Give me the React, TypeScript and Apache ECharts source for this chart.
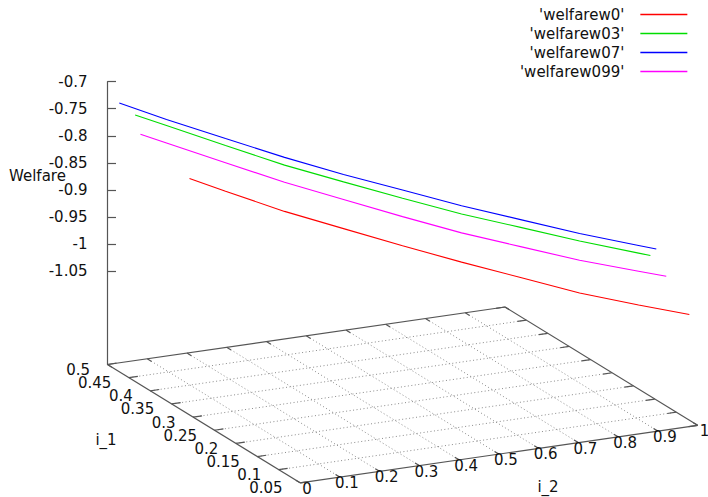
import React, { useEffect, useRef } from 'react';
import * as echarts from 'echarts';

// ---- axis ticks / labels ----
const I1_TICKS = [0.05, 0.1, 0.15, 0.2, 0.25, 0.3, 0.35, 0.4, 0.45, 0.5];
const I1_LABELS = ['0.05', '0.1', '0.15', '0.2', '0.25', '0.3', '0.35', '0.4', '0.45', '0.5'];
const I2_TICKS = [0, 0.1, 0.2, 0.3, 0.4, 0.5, 0.6, 0.7, 0.8, 0.9, 1];
const I2_LABELS = ['0', '0.1', '0.2', '0.3', '0.4', '0.5', '0.6', '0.7', '0.8', '0.9', '1'];
const Z_TICKS = [-1.05, -1, -0.95, -0.9, -0.85, -0.8, -0.75, -0.7];
const Z_LABELS = ['-1.05', '-1', '-0.95', '-0.9', '-0.85', '-0.8', '-0.75', '-0.7'];

const I1_MIN = 0.05;
const I1_MAX = 0.5;
const I2_MIN = 0;
const I2_MAX = 1;
const Z_TOP = -0.7;
const Z_BASE = -1.22274;

// ---- series ----
const SERIES_NAMES = ["'welfarew0'", "'welfarew03'", "'welfarew07'", "'welfarew099'"];
const SERIES_COLORS = ['#ff0000', '#00dd00', '#0000ff', '#ff00ff'];

const I2_W0 = [0.139, 0.2, 0.3, 0.4, 0.5, 0.6, 0.7, 0.8, 0.9, 0.986];
const I1_W0 = [0.4375, 0.41, 0.365, 0.32, 0.275, 0.23, 0.185, 0.14, 0.095, 0.0563];
const WEL_W0 = [-0.8632, -0.88, -0.906, -0.9266, -0.947, -0.966, -0.9832, -1.0005, -1.0115, -1.0195];

const I2_W03 = [0.047, 0.1, 0.2, 0.3, 0.4, 0.5, 0.6, 0.7, 0.8, 0.9, 0.92];
const I1_W03 = [0.479, 0.455, 0.41, 0.365, 0.32, 0.275, 0.23, 0.185, 0.14, 0.095, 0.086];
const WEL_W03 = [-0.7565, -0.7699, -0.7955, -0.8205, -0.8402, -0.8592, -0.8769, -0.8906, -0.9044, -0.9156, -0.9178];

const I2_W07 = [0.02, 0.1, 0.2, 0.3, 0.4, 0.5, 0.6, 0.7, 0.8, 0.9, 0.93];
const I1_W07 = [0.491, 0.455, 0.41, 0.365, 0.32, 0.275, 0.23, 0.185, 0.14, 0.095, 0.0815];
const WEL_W07 = [-0.7371, -0.7585, -0.7826, -0.8061, -0.8264, -0.844, -0.8617, -0.8762, -0.8907, -0.9014, -0.9045];

const I2_W099 = [0.056, 0.1, 0.2, 0.3, 0.4, 0.5, 0.6, 0.7, 0.8, 0.9, 0.947];
const I1_W099 = [0.475, 0.455, 0.41, 0.365, 0.32, 0.275, 0.23, 0.185, 0.14, 0.095, 0.074];
const WEL_W099 = [-0.7909, -0.8021, -0.8273, -0.8522, -0.8728, -0.8932, -0.912, -0.9261, -0.9401, -0.9492, -0.9532];

// ---- projection (view) constants ----
const VIEW = {
  i2dx: 397.5, // px per unit of i_2 (horizontal)
  i2dy: -57.5, // px per unit of i_2 (vertical, screen down)
  i1dx: 428, // px per unit of decreasing i_1
  i1dy: 263,
  zScale: 541, // px per unit of welfare
};

function proj(i1: number, i2: number, z: number): [number, number] {
  const a = i2 - I2_MIN;
  const b = I1_MAX - i1;
  const hx = a * VIEW.i2dx + b * VIEW.i1dx;
  const dp = a * VIEW.i2dy + b * VIEW.i1dy;
  return [hx, z - dp / VIEW.zScale];
}

const FONT = 'DejaVu Sans';
const TEXT_COLOR = '#111';
const BORDER_COLOR = '#555';

export default function App() {
  const ref = useRef<HTMLDivElement>(null);

  useEffect(() => {
    if (!ref.current) return;
    const chart = echarts.init(ref.current, undefined, { renderer: 'svg' });

    // base plane segments: [i1a, i2a, i1b, i2b, kind] kind 0 border, 1 grid, 2 tick
    const segs: number[][] = [];
    I2_TICKS.forEach((t) => {
      if (t > I2_MIN && t < I2_MAX) segs.push([I1_MIN, t, I1_MAX, t, 1]);
    });
    I1_TICKS.forEach((t) => {
      if (t > I1_MIN && t < I1_MAX) segs.push([t, I2_MIN, t, I2_MAX, 1]);
    });
    segs.push([I1_MAX, I2_MIN, I1_MAX, I2_MAX, 0]);
    segs.push([I1_MAX, I2_MAX, I1_MIN, I2_MAX, 0]);
    segs.push([I1_MIN, I2_MAX, I1_MIN, I2_MIN, 0]);
    segs.push([I1_MIN, I2_MIN, I1_MAX, I2_MIN, 0]);
    const t2 = 0.0225 * (I2_MAX - I2_MIN);
    const t1 = 0.0225 * (I1_MAX - I1_MIN);
    I1_TICKS.forEach((t) => {
      segs.push([t, I2_MIN, t, I2_MIN + t2, 2]);
      segs.push([t, I2_MAX, t, I2_MAX - t2, 2]);
    });
    I2_TICKS.forEach((t) => {
      segs.push([I1_MIN, t, I1_MIN + t1, t, 2]);
      segs.push([I1_MAX, t, I1_MAX - t1, t, 2]);
    });

    // tick labels: [i1, i2, axis] axis 0 = i_1, 1 = i_2
    const labels: { v: number[]; text: string }[] = [];
    I1_TICKS.forEach((t, k) => labels.push({ v: [t, I2_MIN, 0], text: I1_LABELS[k] }));
    I2_TICKS.forEach((t, k) => labels.push({ v: [I1_MIN, t, 1], text: I2_LABELS[k] }));

    const sets = [
      [I1_W0, I2_W0, WEL_W0],
      [I1_W03, I2_W03, WEL_W03],
      [I1_W07, I2_W07, WEL_W07],
      [I1_W099, I2_W099, WEL_W099],
    ];

    const lineSeries = sets.map((s, k) => ({
      name: SERIES_NAMES[k],
      type: 'line',
      data: s[0].map((i1, j) => proj(i1, s[1][j], s[2][j])),
      symbol: 'none',
      clip: false,
      z: 5,
      lineStyle: { color: SERIES_COLORS[k], width: 1.1 },
      itemStyle: { color: SERIES_COLORS[k] },
    }));

    chart.setOption({
      animation: false,
      backgroundColor: '#fff',
      grid: { left: 107.5, top: 81.7, width: 600.5, height: 282.8 },
      xAxis: { type: 'value', min: 0, max: 600.5, show: false },
      yAxis: {
        type: 'value',
        min: Z_BASE,
        max: Z_TOP,
        axisLine: { show: true, lineStyle: { color: BORDER_COLOR, width: 1.2 } },
        axisTick: {
          show: true,
          inside: true,
          length: 8.5,
          customValues: Z_TICKS,
          lineStyle: { color: BORDER_COLOR, width: 1.2 },
        },
        axisLabel: {
          customValues: Z_TICKS,
          margin: 20,
          fontFamily: FONT,
          fontSize: 15,
          color: TEXT_COLOR,
          formatter: (v: number) => {
            const i = Z_TICKS.findIndex((t) => Math.abs(t - v) < 1e-9);
            return i >= 0 ? Z_LABELS[i] : '';
          },
        },
        splitLine: { show: false },
      },
      legend: {
        data: SERIES_NAMES,
        orient: 'vertical',
        right: 20,
        top: 7,
        padding: 0,
        align: 'right',
        itemWidth: 47,
        itemHeight: 14,
        itemGap: 4,
        itemStyle: { opacity: 0 },
        lineStyle: { width: 1.3 },
        textStyle: { fontFamily: FONT, fontSize: 15, color: TEXT_COLOR, padding: [0, 11, 0, 0] },
      },
      graphic: [
        { type: 'text', left: 9, top: 168, style: { text: 'Welfare', font: `15px "${FONT}"`, fill: TEXT_COLOR } },
        { type: 'text', x: 106, y: 440, style: { text: 'i_1', font: `15px "${FONT}"`, fill: TEXT_COLOR, textAlign: 'center', textVerticalAlign: 'middle' } },
        { type: 'text', x: 548, y: 487, style: { text: 'i_2', font: `15px "${FONT}"`, fill: TEXT_COLOR, textAlign: 'center', textVerticalAlign: 'middle' } },
      ],
      series: [
        {
          type: 'custom',
          name: 'base',
          clip: false,
          silent: true,
          z: 1,
          data: segs,
          renderItem: (params: any, api: any) => {
            const a = api.coord(proj(api.value(0), api.value(1), Z_BASE));
            const b = api.coord(proj(api.value(2), api.value(3), Z_BASE));
            const kind = api.value(4);
            return {
              type: 'line',
              shape: { x1: a[0], y1: a[1], x2: b[0], y2: b[1] },
              style:
                kind === 1
                  ? { stroke: '#8c8c8c', lineWidth: 1, lineDash: [1, 2.5] }
                  : { stroke: BORDER_COLOR, lineWidth: 1.2 },
            };
          },
        },
        {
          type: 'custom',
          name: 'ticklabels',
          clip: false,
          silent: true,
          z: 2,
          data: labels.map((l) => l.v),
          renderItem: (params: any, api: any) => {
            const p = api.coord(proj(api.value(0), api.value(1), Z_BASE));
            const axis = api.value(2);
            const text = labels[params.dataIndex].text;
            return {
              type: 'text',
              x: axis === 0 ? p[0] - 17.5 : p[0] + 7,
              y: axis === 0 ? p[1] + 5.5 : p[1] + 6,
              style: {
                text,
                font: `15px "${FONT}"`,
                fill: TEXT_COLOR,
                textAlign: axis === 0 ? 'right' : 'center',
                textVerticalAlign: 'middle',
              },
            };
          },
        },
        ...lineSeries,
      ],
    });

    return () => chart.dispose();
  }, []);

  return (
    <div
      ref={ref}
      style={{ position: 'fixed', left: 0, top: 0, width: 708, height: 497, background: '#fff' }}
    />
  );
}
